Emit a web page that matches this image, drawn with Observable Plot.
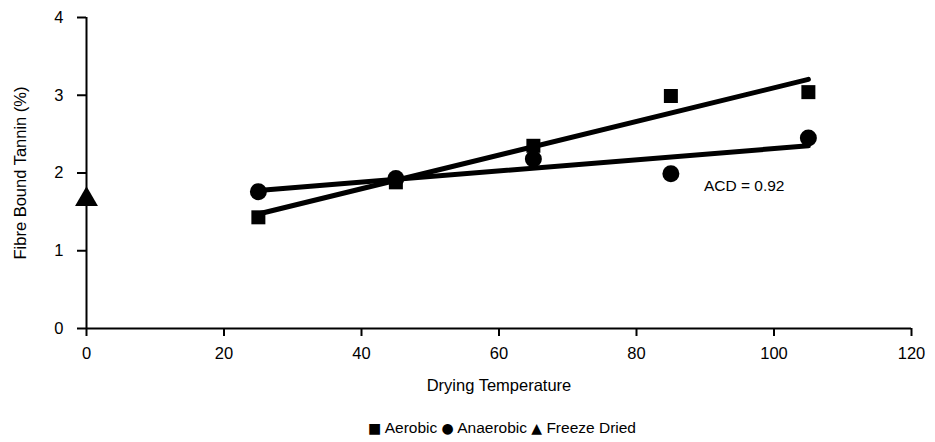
<!DOCTYPE html>
<html>
<head>
<meta charset="utf-8">
<script src="https://cdn.jsdelivr.net/npm/d3@7"></script>
<script src="https://cdn.jsdelivr.net/npm/@observablehq/plot@0.6"></script>
<style>
  body { margin: 0; background: #fff; font-family: "Liberation Sans", Arial, sans-serif; }
  #legend { width: 935px; text-align: center; font-size: 15.5px; line-height: 18px; color: #000; padding-top: 19px; padding-left: 69px; box-sizing: border-box; }
  #legend span.sym { font-family: "DejaVu Sans", sans-serif; font-size: 14px; }
</style>
</head>
<body>
<div id="chart"></div>
<div id="legend"></div>
<script>
// Drying temperatures and fibre-bound tannin (%) for each treatment
const temps = [25, 45, 65, 85, 105];
const aerobic = [1.43, 1.88, 2.35, 2.99, 3.04];
const anaerobic = [1.76, 1.93, 2.18, 1.99, 2.45];
const freezeDried = [{temp: 0, tannin: 1.66}];
const xTicks = [0, 20, 40, 60, 80, 100, 120];
const yTicks = [0, 1, 2, 3, 4];
const note = {temp: 89.8, tannin: 1.83, text: "ACD = 0.92"};

const aerobicData = temps.map((t, i) => ({temp: t, tannin: aerobic[i]}));
const anaerobicData = temps.map((t, i) => ({temp: t, tannin: anaerobic[i]}));

const chart = Plot.plot({
  width: 935,
  height: 400,
  marginLeft: 86,
  marginRight: 24,
  marginTop: 17,
  marginBottom: 72,
  style: {fontFamily: "'Liberation Sans', Arial, sans-serif", fontSize: "15.5px", color: "#000"},
  x: {domain: [0, 120]},
  y: {domain: [0, 4]},
  marks: [
    Plot.axisX({ticks: xTicks, tickFormat: "d", tickSize: 8, tickPadding: 11, strokeWidth: 2, fontSize: 15.5,
      label: "Drying Temperature", labelAnchor: "center", labelOffset: 62, labelArrow: "none", labelFontSize: 16}),
    Plot.axisY({ticks: yTicks, tickFormat: "d", tickSize: 9, tickPadding: 14, strokeWidth: 2, fontSize: 15.5,
      label: "Fibre Bound Tannin (%)", labelAnchor: "center", labelOffset: 72, labelArrow: "none"}),
    Plot.ruleX([0], {stroke: "#000", strokeWidth: 2}),
    Plot.ruleY([0], {stroke: "#000", strokeWidth: 2}),
    Plot.linearRegressionY(aerobicData, {x: "temp", y: "tannin", ci: 0, stroke: "#000", strokeWidth: 5}),
    Plot.linearRegressionY(anaerobicData, {x: "temp", y: "tannin", ci: 0, stroke: "#000", strokeWidth: 5}),
    Plot.dot(aerobicData, {x: "temp", y: "tannin", symbol: "square", r: 7.9, fill: "#000", stroke: "none"}),
    Plot.dot(anaerobicData, {x: "temp", y: "tannin", symbol: "circle", r: 8.5, fill: "#000", stroke: "none"}),
    Plot.dot(freezeDried, {x: "temp", y: "tannin", symbol: "triangle", r: 8.5, fill: "#000", stroke: "none"}),
    Plot.text([note], {x: "temp", y: "tannin", text: "text", textAnchor: "start", fontSize: 15.5, fill: "#000"})
  ]
});
document.getElementById("chart").append(chart);

// Axis titles are drawn slightly larger than the tick labels
chart.querySelectorAll("[aria-label$='label'] text, text[aria-label$='label']").forEach(t => t.setAttribute("font-size", "16.5"));

document.getElementById("legend").innerHTML =
  '<span class="sym">■</span> Aerobic <span class="sym">●</span> Anaerobic <span class="sym">▲</span> Freeze Dried';
</script>
</body>
</html>
